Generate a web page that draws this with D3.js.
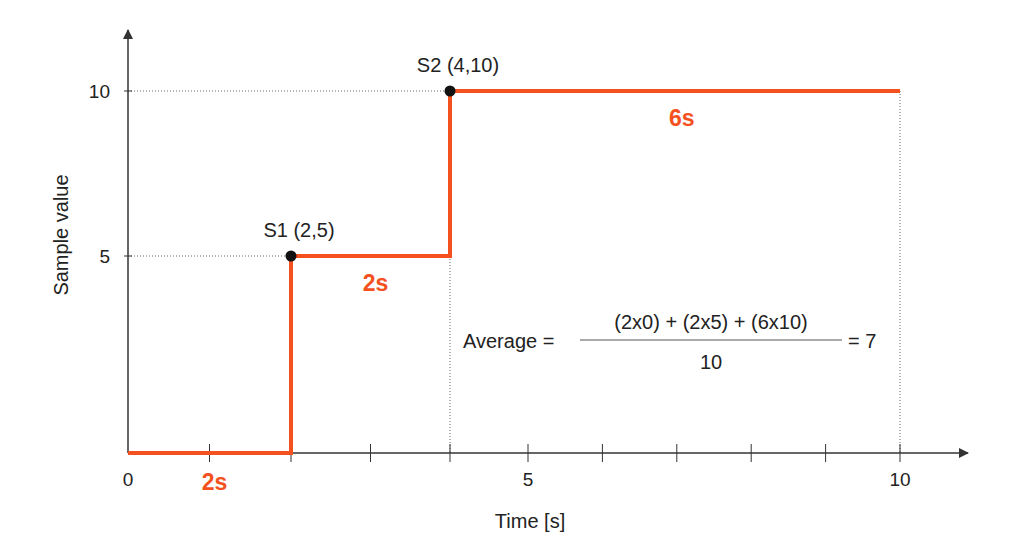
<!DOCTYPE html><html><head><script src="https://cdn.jsdelivr.net/npm/d3@7"></script>
<style>body{margin:0;background:#fff}text{font-family:Arial,"Liberation Sans",sans-serif}</style></head><body>
<svg id="c" width="1024" height="549"></svg>
<script>
const times=[0,2,4,10];
const values=[0,5,10,10];
const samples=[{name:"S1 (2,5)",t:2,v:5},{name:"S2 (4,10)",t:4,v:10}];
const durations=[{label:"2s",t:1,v:0},{label:"2s",t:3,v:5},{label:"6s",t:7,v:10}];
const xTicks=[1,2,3,4,5,6,7,8,9,10];
const xLabels=[0,5,10];
const yLabels=[5,10];
const svg=d3.select("#c");
const x=d3.scaleLinear().domain([0,2,4,5,10]).range([128,291,450,528,900]);
const y=d3.scaleLinear().domain([0,5,10]).range([453,256,91]);
const ax="#333",red="#f4511e";
svg.append("defs").append("marker").attr("id","ar").attr("viewBox","0 0 10 10").attr("refX",9).attr("refY",5)
 .attr("markerWidth",10).attr("markerHeight",10).attr("markerUnits","userSpaceOnUse").attr("orient","auto")
 .append("path").attr("d","M0,0L10,5L0,10z").attr("fill",ax);
const g=svg.append("g").attr("stroke","#666").attr("stroke-dasharray","1,2").attr("stroke-width",1);
samples.forEach(s=>g.append("line").attr("x1",x(0)).attr("x2",x(s.t)).attr("y1",y(s.v)).attr("y2",y(s.v)));
g.append("line").attr("x1",x(4)).attr("x2",x(4)).attr("y1",y(5)).attr("y2",y(0));
g.append("line").attr("x1",x(10)).attr("x2",x(10)).attr("y1",y(10)).attr("y2",y(0));
svg.append("line").attr("x1",x(0)).attr("x2",968).attr("y1",y(0)).attr("y2",y(0)).attr("stroke",ax).attr("stroke-width",1.5).attr("marker-end","url(#ar)");
svg.append("line").attr("x1",x(0)).attr("x2",x(0)).attr("y1",y(0)).attr("y2",30).attr("stroke",ax).attr("stroke-width",1.5).attr("marker-end","url(#ar)");
xTicks.forEach(t=>svg.append("line").attr("x1",x(t)).attr("x2",x(t)).attr("y1",y(0)-9).attr("y2",y(0)+9).attr("stroke",ax));
yLabels.forEach(v=>{svg.append("line").attr("x1",x(0)-4).attr("x2",x(0)+4).attr("y1",y(v)).attr("y2",y(v)).attr("stroke",ax);
 svg.append("text").attr("x",x(0)-18).attr("y",y(v)+7).attr("text-anchor","end").attr("font-size",19).attr("fill","#222").text(v);});
xLabels.forEach(v=>svg.append("text").attr("x",x(v)).attr("y",y(0)+33).attr("text-anchor","middle").attr("font-size",19).attr("fill","#222").text(v));
svg.append("text").attr("x",530).attr("y",528).attr("text-anchor","middle").attr("font-size",20).attr("fill","#222").text("Time [s]");
svg.append("text").attr("transform","translate(68,235) rotate(-90)").attr("text-anchor","middle").attr("font-size",20).attr("fill","#222").text("Sample value");
const line=d3.line().x(d=>x(d[0])).y(d=>y(d[1])).curve(d3.curveStepAfter);
svg.append("path").datum(times.map((t,i)=>[t,values[i]])).attr("d",line).attr("fill","none").attr("stroke",red).attr("stroke-width",4);
samples.forEach(s=>{svg.append("circle").attr("cx",x(s.t)).attr("cy",y(s.v)).attr("r",5.5).attr("fill","#111");
 svg.append("text").attr("x",x(s.t)+8).attr("y",y(s.v)-19).attr("text-anchor","middle").attr("font-size",20).attr("fill","#222").text(s.name);});
durations.forEach(d=>svg.append("text").attr("x",x(d.t)+5).attr("y",y(d.v)+(d.v===0?37:35)).attr("text-anchor","middle").attr("font-size",23).attr("font-weight","bold").attr("fill",red).text(d.label));
svg.append("text").attr("x",463).attr("y",348).attr("font-size",20).attr("fill","#222").text("Average =");
svg.append("text").attr("x",711).attr("y",329).attr("text-anchor","middle").attr("font-size",20).attr("fill","#222").text("(2x0) + (2x5) + (6x10)");
svg.append("line").attr("x1",580).attr("x2",842).attr("y1",340).attr("y2",340).attr("stroke","#555");
svg.append("text").attr("x",711).attr("y",369).attr("text-anchor","middle").attr("font-size",20).attr("fill","#222").text("10");
svg.append("text").attr("x",848).attr("y",348).attr("font-size",20).attr("fill","#222").text("= 7");
</script></body></html>
